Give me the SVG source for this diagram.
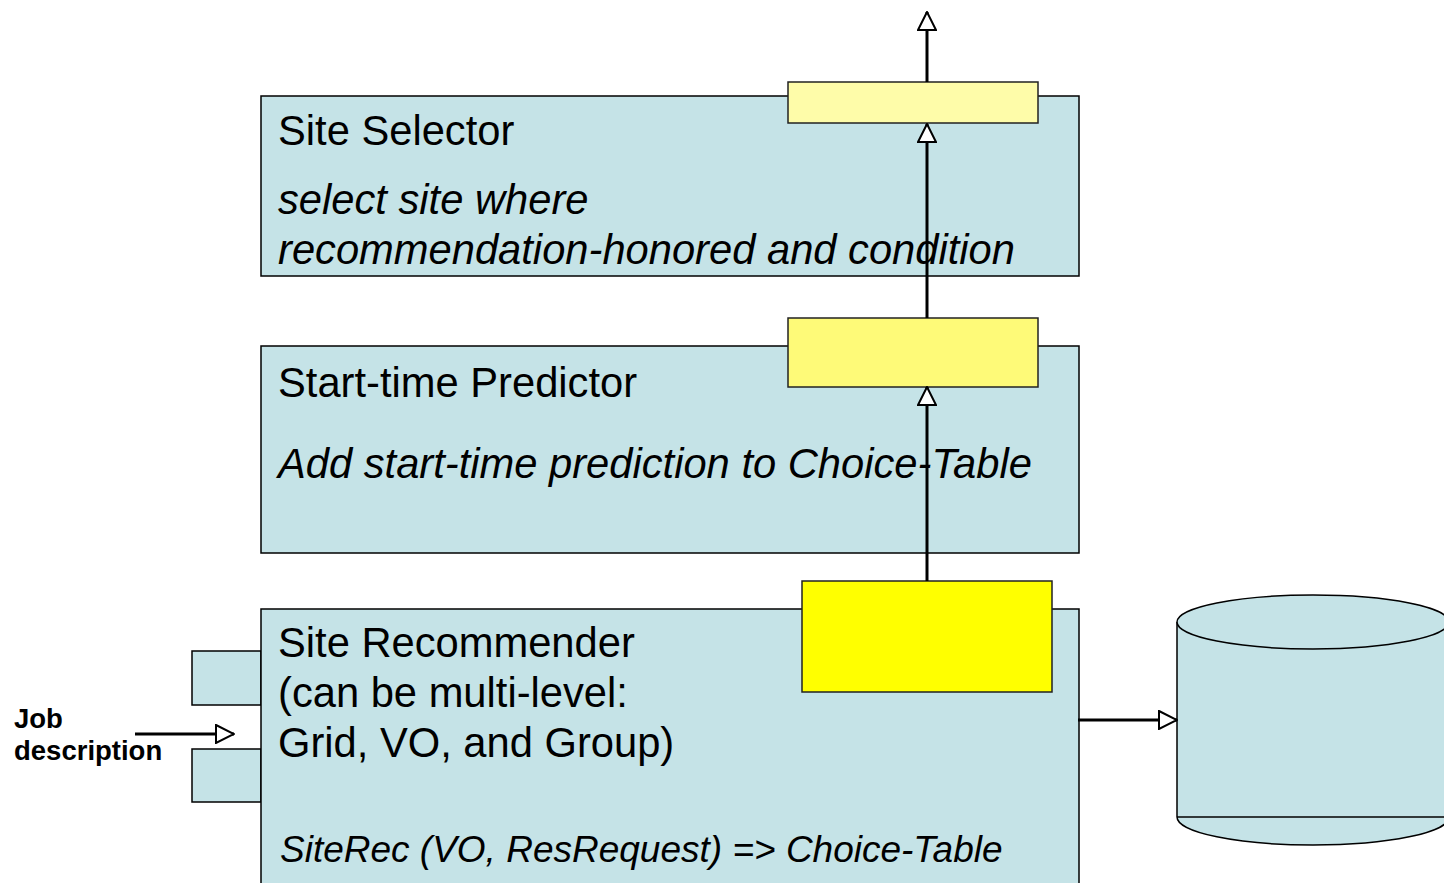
<svg xmlns="http://www.w3.org/2000/svg" width="1444" height="883" viewBox="0 0 1444 883">
<style>
.box{fill:#c5e3e7;stroke:#000;stroke-width:1.5}
.yel{stroke:#222;stroke-width:1.5}
.t{font-family:"Liberation Sans",Arial,sans-serif;font-size:41.7px;fill:#000}
.i{font-style:italic}
.s{font-family:"Liberation Sans",Arial,sans-serif;font-size:27.5px;font-weight:bold;fill:#000}
.ln{stroke:#000;stroke-width:3;fill:none}
</style>
<defs>
<marker id="ah" viewBox="0 0 20 20" refX="19" refY="10" markerWidth="20" markerHeight="20" markerUnits="userSpaceOnUse" orient="auto">
<path d="M1,1 L19,10 L1,19 Z" fill="#fff" stroke="#000" stroke-width="2"/>
</marker>
</defs>
<rect width="1444" height="883" fill="#fff"/>
<g id="site-selector">
<rect class="box" x="261" y="96" width="818" height="180"/>
<text class="t" x="278" y="145">Site Selector</text>
<text class="t i" x="278" y="214">select site where</text>
<text class="t i" x="278" y="264">recommendation-honored and condition</text>
<rect class="yel" x="788" y="82" width="250" height="41" fill="#fefca9"/>
</g>
<g id="start-time-predictor">
<rect class="box" x="261" y="346" width="818" height="207"/>
<text class="t" x="278" y="397">Start-time Predictor</text>
<text class="t i" x="278" y="478">Add start-time prediction to Choice-Table</text>
<rect class="yel" x="788" y="318" width="250" height="69" fill="#fefa78"/>
</g>
<g id="site-recommender">
<rect class="box" x="192" y="651" width="69" height="54"/>
<rect class="box" x="192" y="749" width="69" height="53"/>
<rect class="box" x="261" y="609" width="818" height="290"/>
<text class="t" x="278" y="657">Site Recommender</text>
<text class="t" x="278" y="707">(can be multi-level:</text>
<text class="t" x="278" y="757">Grid, VO, and Group)</text>
<text class="t i" x="280" y="862" style="font-size:37px">SiteRec (VO, ResRequest) =&gt; Choice-Table</text>
<rect class="yel" x="802" y="581" width="250" height="111" fill="#ffff00"/>
</g>
<g id="database">
<path class="box" d="M1177,622 L1177,817 A136,28 0 0 0 1449,817 L1449,622"/>
<ellipse class="box" cx="1313" cy="622" rx="136" ry="27"/>
<line x1="1177" y1="817" x2="1449" y2="817" stroke="#000" stroke-width="1.5"/>
</g>
<g id="job-description">
<text class="s" x="14" y="728">Job</text>
<text class="s" x="14" y="760">description</text>
</g>
<g id="connectors">
<line class="ln" x1="927" y1="82" x2="927" y2="12" marker-end="url(#ah)"/>
<line class="ln" x1="927" y1="318" x2="927" y2="124" marker-end="url(#ah)"/>
<line class="ln" x1="927" y1="581" x2="927" y2="387" marker-end="url(#ah)"/>
<line class="ln" x1="135" y1="734" x2="234" y2="734" marker-end="url(#ah)"/>
<line class="ln" x1="1078" y1="720" x2="1177" y2="720" marker-end="url(#ah)"/>
</g>
</svg>
